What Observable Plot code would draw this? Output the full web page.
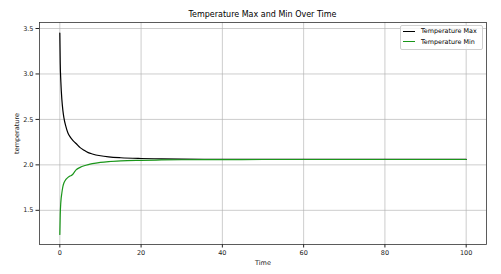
<!DOCTYPE html>
<html><head><meta charset="utf-8">
<script src="https://cdn.jsdelivr.net/npm/d3@7"></script>
<script src="https://cdn.jsdelivr.net/npm/@observablehq/plot@0.6"></script>
<style>
body{margin:0;background:#fff;font-family:"DejaVu Sans",sans-serif;}
#wrap{position:relative;width:501px;height:274px;}
#title{position:absolute;left:39px;width:447px;top:10px;text-align:center;font-size:8px;line-height:10px;color:#000;}
#legend{position:absolute;left:400px;top:25px;width:81px;height:23px;border:1px solid #d0d0d0;border-radius:2px;background:rgba(255,255,255,0.8);font-size:6.4px;color:#000;}
#legend .row{position:absolute;left:2px;height:9px;line-height:9px;white-space:nowrap;}
#legend .sw{display:inline-block;width:12px;height:0;border-top:1.3px solid;vertical-align:middle;margin-right:6px;}
</style></head>
<body><div id="wrap"><div id="chart"></div><div id="title"></div><div id="legend"></div></div>
<script>
const titleText = "Temperature Max and Min Over Time";
const seriesNames = ["Temperature Max", "Temperature Min"];
const seriesColors = ["#000000", "#1a961a"];
const time = [0,0.1,0.25,0.5,0.75,1,1.5,2,2.5,3,3.5,4,5,6,7,8,10,12,15,20,25,30,40,50,60,80,100];
const tempMax = [3.45,3.12,2.92,2.72,2.60,2.52,2.42,2.35,2.31,2.28,2.255,2.235,2.19,2.16,2.135,2.12,2.10,2.088,2.078,2.07,2.066,2.063,2.061,2.06,2.06,2.06,2.06];
const tempMin = [1.235,1.45,1.59,1.69,1.76,1.80,1.84,1.862,1.877,1.888,1.915,1.945,1.972,1.99,2.003,2.013,2.027,2.036,2.044,2.05,2.054,2.056,2.058,2.059,2.059,2.059,2.059];
const xTicks = [0,20,40,60,80,100];
const yTicks = [1.5,2.0,2.5,3.0,3.5];

const rows = [];
time.forEach((t,i)=>{
  rows.push({t, v:tempMax[i], s:seriesNames[0]});
  rows.push({t, v:tempMin[i], s:seriesNames[1]});
});

const plot = Plot.plot({
  width:501, height:274,
  marginLeft:39, marginRight:15, marginTop:22, marginBottom:30,
  style:{fontFamily:"DejaVu Sans, sans-serif", fontSize:"6.5px", color:"#222", background:"#fff"},
  x:{domain:[-5,105], ticks:xTicks, tickSize:3.5, tickPadding:2.5, label:"Time", labelAnchor:"center", labelArrow:"none", labelOffset:20, tickFormat:d=>String(d)},
  y:{domain:[1.124,3.566], ticks:yTicks, tickSize:3.5, tickPadding:2.5, label:"temperature", labelAnchor:"center", labelArrow:"none", labelOffset:25, tickFormat:d3.format(".1f")},
  color:{domain:seriesNames, range:seriesColors},
  marks:[
    Plot.gridX(xTicks,{stroke:"#b0b0b0", strokeOpacity:0.8, strokeWidth:0.8}),
    Plot.gridY(yTicks,{stroke:"#b0b0b0", strokeOpacity:0.8, strokeWidth:0.8}),
    Plot.line(rows,{x:"t", y:"v", z:"s", stroke:"s", strokeWidth:1.2, curve:"monotone-x"}),
    Plot.frame({stroke:"#333", strokeWidth:0.8})
  ]
});
document.getElementById("chart").appendChild(plot);
document.getElementById("title").textContent = titleText;
const leg = document.getElementById("legend");
seriesNames.forEach((n,i)=>{
  const r = document.createElement("div");
  r.className="row"; r.style.top = (1+i*10.5)+"px";
  r.innerHTML = `<span class="sw" style="border-color:${seriesColors[i]}"></span>${n}`;
  leg.appendChild(r);
});
</script></body></html>
